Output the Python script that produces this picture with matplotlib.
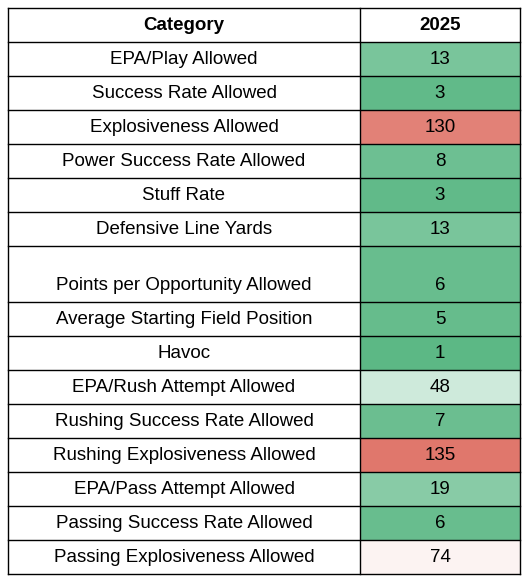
import matplotlib.pyplot as plt
import numpy as np
from matplotlib.colors import to_rgb

categories = ["EPA/Play Allowed", "Success Rate Allowed", "Explosiveness Allowed",
              "Power Success Rate Allowed", "Stuff Rate", "Defensive Line Yards",
              "Points per Opportunity Allowed", "Average Starting Field Position", "Havoc",
              "EPA/Rush Attempt Allowed", "Rushing Success Rate Allowed",
              "Rushing Explosiveness Allowed", "EPA/Pass Attempt Allowed",
              "Passing Success Rate Allowed", "Passing Explosiveness Allowed"]
ranks_2025 = [13, 3, 130, 8, 3, 13, 6, 5, 1, 48, 7, 135, 19, 6, 74]
header = ["Category", "2025"]

W, H = 524, 578
fig = plt.figure(figsize=(W / 100, H / 100), dpi=100)
ax = fig.add_axes([0, 0, 1, 1])
ax.set_xlim(0, W)
ax.set_ylim(H, 0)
ax.axis('off')

green, white, red = np.array(to_rgb('#5cb885')), np.array([1, 1, 1]), np.array(to_rgb('#e0776c'))
lo, hi = min(ranks_2025), max(ranks_2025)
mid = 68


def rank_color(v):
    if v <= mid:
        t = (v - lo) / (mid - lo)
        return green + (white - green) * t
    t = (v - mid) / (hi - mid)
    return white + (red - white) * t


x0, x1, x2 = 8, 360, 520
top = 8
row_h = [34] * len(categories)
row_h[6] = 56
heights = [34] + row_h
edges = np.concatenate([[top], top + np.cumsum(heights)])

font = dict(fontsize=13.5, family='Liberation Sans')
ax.text((x0 + x1) / 2, (edges[0] + edges[1]) / 2, header[0], ha='center', va='center',
        fontweight='bold', **font)
ax.text((x1 + x2) / 2, (edges[0] + edges[1]) / 2, header[1], ha='center', va='center',
        fontweight='bold', **font)

for i, (cat, v) in enumerate(zip(categories, ranks_2025)):
    y_top, y_bot = edges[i + 1], edges[i + 2]
    ax.add_patch(plt.Rectangle((x1, y_top), x2 - x1, y_bot - y_top, color=rank_color(v), lw=0))
    yc = y_bot - 17
    ax.text((x0 + x1) / 2, yc, cat, ha='center', va='center', **font)
    ax.text((x1 + x2) / 2, yc, str(v), ha='center', va='center', **font)

for y in edges:
    ax.plot([x0, x2], [y, y], color='black', lw=1)
for x in (x0, x1, x2):
    ax.plot([x, x], [edges[0], edges[-1]], color='black', lw=1)

fig.savefig('out.png', dpi=100)
